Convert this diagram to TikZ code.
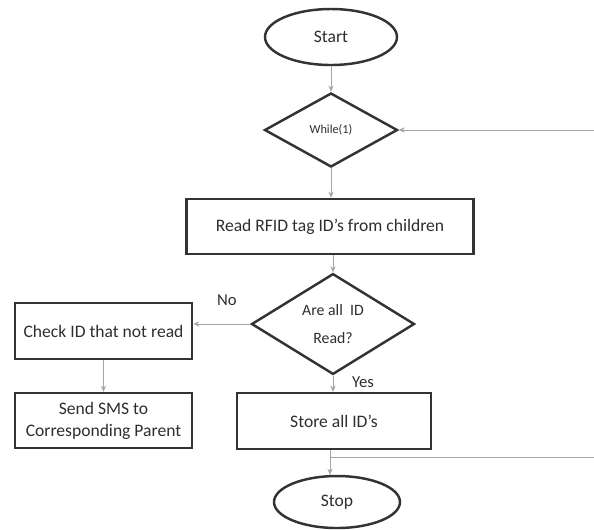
\documentclass[tikz,border=0pt]{standalone}
\usepackage{fontspec}
\setmainfont{Carlito}
\usepackage{tikz}
\usetikzlibrary{shapes.geometric, arrows.meta, positioning, calc}
\usepackage{xcolor}
\definecolor{FlowLine}{HTML}{A6A6A6}
\definecolor{FlowBorder}{HTML}{333333}
\definecolor{FlowText}{HTML}{2E2E2E}
\tikzset{
    % Node styles
    terminalbox/.style={
        ellipse,
        draw=FlowBorder,
        line width=1.4pt,
        inner sep=0pt,
        text=FlowText,
        font=\fontsize{10}{12}\selectfont
    },
    decisionbox/.style={
        diamond,
        draw=FlowBorder,
        line width=1.4pt,
        inner sep=0pt,
        align=center,
        text=FlowText
    },
    processbox/.style={
        rectangle,
        draw=FlowBorder,
        line width=1.4pt,
        inner sep=0pt,
        align=center,
        text=FlowText,
        font=\fontsize{10}{12.5}\selectfont
    },
    % Arrow styles
    flowarrow/.style={
        -{Stealth[length=3.5pt,width=3pt]},
        FlowLine,
        line width=0.5pt
    },
    flowline/.style={
        FlowLine,
        line width=0.5pt
    },
    answer/.style={
        text=FlowText,
        font=\fontsize{9.5}{11}\selectfont
    }
}
\begin{document}
\begin{tikzpicture}[x=0.02cm, y=-0.02cm]
    \useasboundingbox (0,0) rectangle (594,529);

    % Start
    \node[terminalbox, minimum width=132*0.02cm, minimum height=56*0.02cm] (start) at (331,37) {Start};

    % Endless loop
    \node[decisionbox, minimum width=133*0.02cm, minimum height=74*0.02cm,
          font=\fontsize{7}{8}\selectfont] (loop) at (331,130) {While(1)};

    % Read tags
    \node[processbox, minimum width=287*0.02cm, minimum height=55*0.02cm] (read) at (330,226.5) {Read RFID tag ID's from children};

    % All read?
    \node[decisionbox, minimum width=163*0.02cm, minimum height=90*0.02cm,
          font=\fontsize{9}{16}\selectfont] (allread) at (333,324) {Are all\ \ ID\\Read?};

    % No branch
    \node[processbox, minimum width=177*0.02cm, minimum height=56*0.02cm] (notread) at (103.5,331) {Check ID that not read};
    \node[processbox, minimum width=177*0.02cm, minimum height=55*0.02cm] (sms) at (103.5,420.5) {Send SMS to\\Corresponding Parent};

    % Yes branch
    \node[processbox, minimum width=194*0.02cm, minimum height=56*0.02cm] (store) at (334,421) {Store all ID's};

    % Stop
    \node[terminalbox, minimum width=126*0.02cm, minimum height=52*0.02cm] (stop) at (337,502) {Stop};

    % Loop back ends
    \coordinate (backin) at (594,130);
    \coordinate (split) at (330,457);

    % Connectors
    \draw[flowarrow] (start) -- (loop);
    \draw[flowarrow] (loop) -- (loop |- read.north);
    \draw[flowarrow] (read.south -| allread) -- (allread);
    \draw[flowarrow] (allread.west) -- (allread.west -| notread.east);
    \draw[flowarrow] (notread) -- (sms);
    \draw[flowarrow] (allread) -- (allread |- store.north);
    \draw[flowarrow] (store.south -| split) -- (split |- stop.north);
    \draw[flowline] (split) -- (split -| backin);
    \draw[flowarrow] (backin) -- (loop.east);

    % Labels
    \node[answer] (nolabel) at (227,300) {No};
    \node[answer] (yeslabel) at (363,382) {Yes};
\end{tikzpicture}
\end{document}
